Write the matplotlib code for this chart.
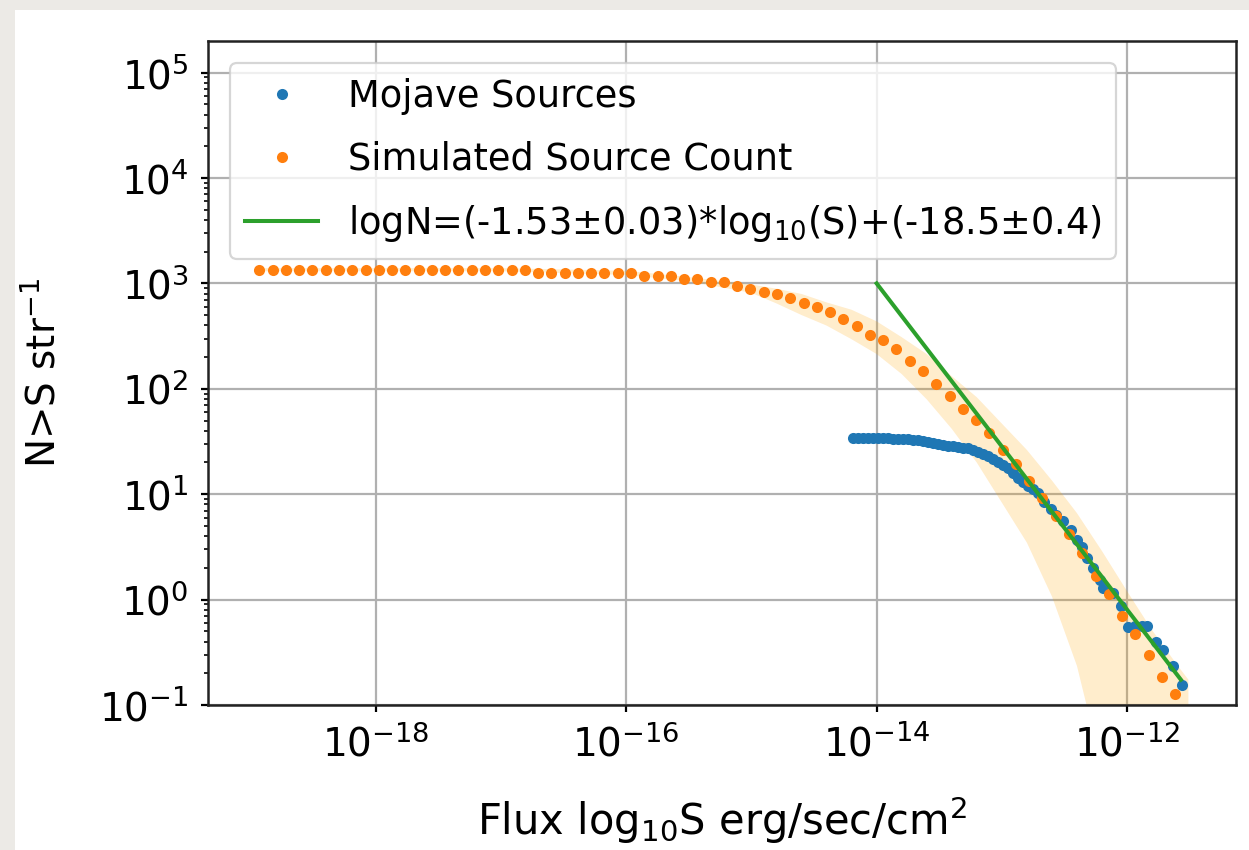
import numpy as np
import matplotlib
matplotlib.use("Agg")
from matplotlib import pyplot as plt
from matplotlib.patches import Rectangle

# simulated source count, log10 of flux and of N(>S)
sim_logS = [-18.930, -18.824, -18.718, -18.612, -18.506, -18.400, -18.294, -18.188, -18.082, -17.976,
            -17.870, -17.764, -17.658, -17.552, -17.446, -17.340, -17.234, -17.128, -17.022, -16.916,
            -16.810, -16.704, -16.598, -16.492, -16.386, -16.280, -16.174, -16.068, -15.962, -15.856,
            -15.750, -15.644, -15.538, -15.432, -15.326, -15.220, -15.114, -15.008, -14.902, -14.796,
            -14.690, -14.584, -14.478, -14.372, -14.266, -14.160, -14.054, -13.948, -13.842, -13.736,
            -13.630, -13.524, -13.418, -13.312, -13.206, -13.100, -12.994, -12.888, -12.782, -12.676,
            -12.570, -12.464, -12.358, -12.252, -12.146, -12.040, -11.934, -11.828, -11.722, -11.616]
sim_logN = [3.13, 3.13, 3.13, 3.13, 3.13, 3.13, 3.13, 3.13, 3.13, 3.13,
            3.13, 3.13, 3.13, 3.13, 3.13, 3.13, 3.13, 3.13, 3.13, 3.13,
            3.13, 3.10, 3.10, 3.10, 3.10, 3.10, 3.10, 3.10, 3.10, 3.07,
            3.07, 3.07, 3.04, 3.04, 3.01, 3.01, 2.98, 2.95, 2.92, 2.895,
            2.865, 2.81, 2.775, 2.727, 2.664, 2.60, 2.515, 2.46, 2.375, 2.26,
            2.17, 2.05, 1.935, 1.81, 1.70, 1.58, 1.42, 1.29, 1.13, 0.96,
            0.79, 0.62, 0.445, 0.224, 0.05, -0.156, -0.33, -0.53, -0.73, -0.90]

# spread of the simulation
band_logS = [-18.93, -17.0, -16.0, -15.5, -15.0, -14.8, -14.6, -14.4, -14.2, -14.0,
             -13.8, -13.6, -13.4, -13.2, -13.0, -12.8, -12.6, -12.4, -12.2, -12.0,
             -11.8, -11.6, -11.51]
band_lo = [3.115, 3.115, 3.08, 3.02, 2.91, 2.81, 2.70, 2.60, 2.47, 2.33,
           2.14, 1.90, 1.62, 1.30, 0.92, 0.54, 0.03, -0.63, -1.6, -2.8,
           -4.0, -5.0, -5.5]
band_hi = [3.145, 3.145, 3.12, 3.06, 2.99, 2.95, 2.90, 2.82, 2.75, 2.64,
           2.49, 2.33, 2.12, 1.92, 1.67, 1.42, 1.13, 0.82, 0.46, 0.08,
           -0.29, -0.62, -0.76]

# mojave sources
moj_logS = [-14.19, -14.15, -14.11, -14.07, -14.03, -13.99, -13.95, -13.91, -13.87, -13.83,
            -13.79, -13.75, -13.71, -13.67, -13.63, -13.59, -13.55, -13.51, -13.47, -13.43,
            -13.39, -13.35, -13.31, -13.27, -13.23, -13.19, -13.15, -13.11, -13.07, -13.03,
            -12.99, -12.95, -12.91, -12.87, -12.83, -12.79, -12.75, -12.71,
            -12.66, -12.61, -12.57, -12.51, -12.45, -12.40, -12.36, -12.32, -12.27, -12.22,
            -12.19, -12.11, -12.05, -11.99, -11.94, -11.88, -11.84, -11.77, -11.71, -11.63, -11.565]
moj_logN = [1.533, 1.533, 1.533, 1.533, 1.532, 1.532, 1.530, 1.530, 1.528, 1.527,
            1.524, 1.520, 1.516, 1.511, 1.505, 1.498, 1.488, 1.478, 1.470, 1.462,
            1.455, 1.449, 1.442, 1.434, 1.418, 1.400, 1.380, 1.358, 1.335, 1.310,
            1.280, 1.245, 1.200, 1.155, 1.115, 1.080, 1.050, 1.015,
            0.93, 0.855, 0.80, 0.75, 0.66, 0.57, 0.50, 0.39, 0.30, 0.19,
            0.11, 0.06, -0.06, -0.26, -0.25, -0.25, -0.25, -0.40, -0.48, -0.63, -0.81]

# fitted power law
fit_logS = [-14.0, -11.57]
fit_logN = [3.0, -0.76]
fit_label = "logN=(-1.53±0.03)*log$_{10}$(S)+(-18.5±0.4)"

fig = plt.figure(figsize=(12.49, 8.5), dpi=100)
fig.patch.set_facecolor('#ECEAE6')
fig.patches.append(Rectangle((15/1249, 0), 1, 1 - 10/850, transform=fig.transFigure,
                             facecolor='white', edgecolor='none', zorder=-1))
ax = fig.add_axes([208/1249, 1 - 705/850, (1236-208)/1249, (705-41)/850])

ax.fill_between(10**np.array(band_logS), 10**np.array(band_lo), 10**np.array(band_hi),
                color='orange', alpha=0.2, linewidth=0)
ax.plot(10**np.array(moj_logS), 10**np.array(moj_logN), 'o', color='C0', ms=8, mew=0,
        label='Mojave Sources')
ax.plot(10**np.array(sim_logS), 10**np.array(sim_logN), 'o', color='C1', ms=8, mew=0,
        label='Simulated Source Count')
ax.plot(10**np.array(fit_logS), 10**np.array(fit_logN), color='C2', lw=2.9, label=fit_label)

ax.set_xscale('log')
ax.set_yscale('log')
ax.set_xlim(10**-19.34, 10**-11.13)
ax.set_ylim(0.1, 10**5.3)
ax.set_xticks([1e-18, 1e-16, 1e-14, 1e-12])
ax.xaxis.set_minor_locator(matplotlib.ticker.NullLocator())
ax.grid(True, color='#b0b0b0', lw=1.6)
ax.set_axisbelow(True)
for s in ax.spines.values():
    s.set_linewidth(1.8)
    s.set_color('#222222')
ax.tick_params(which='major', labelsize=28, length=5, width=1.6, pad=9)
ax.tick_params(which='minor', length=3, width=1.2)

ax.set_xlabel('Flux log$_{10}$S erg/sec/cm$^2$', fontsize=30, labelpad=22)
ax.set_ylabel('N>S str$^{-1}$', fontsize=28, labelpad=26)

leg = ax.legend(loc='upper left', fontsize=26.5, numpoints=1, borderaxespad=0.6,
                handlelength=2.0, labelspacing=0.7)
leg.get_frame().set_linewidth(1.6)

fig.savefig('out.png', dpi=100, facecolor=fig.get_facecolor())
